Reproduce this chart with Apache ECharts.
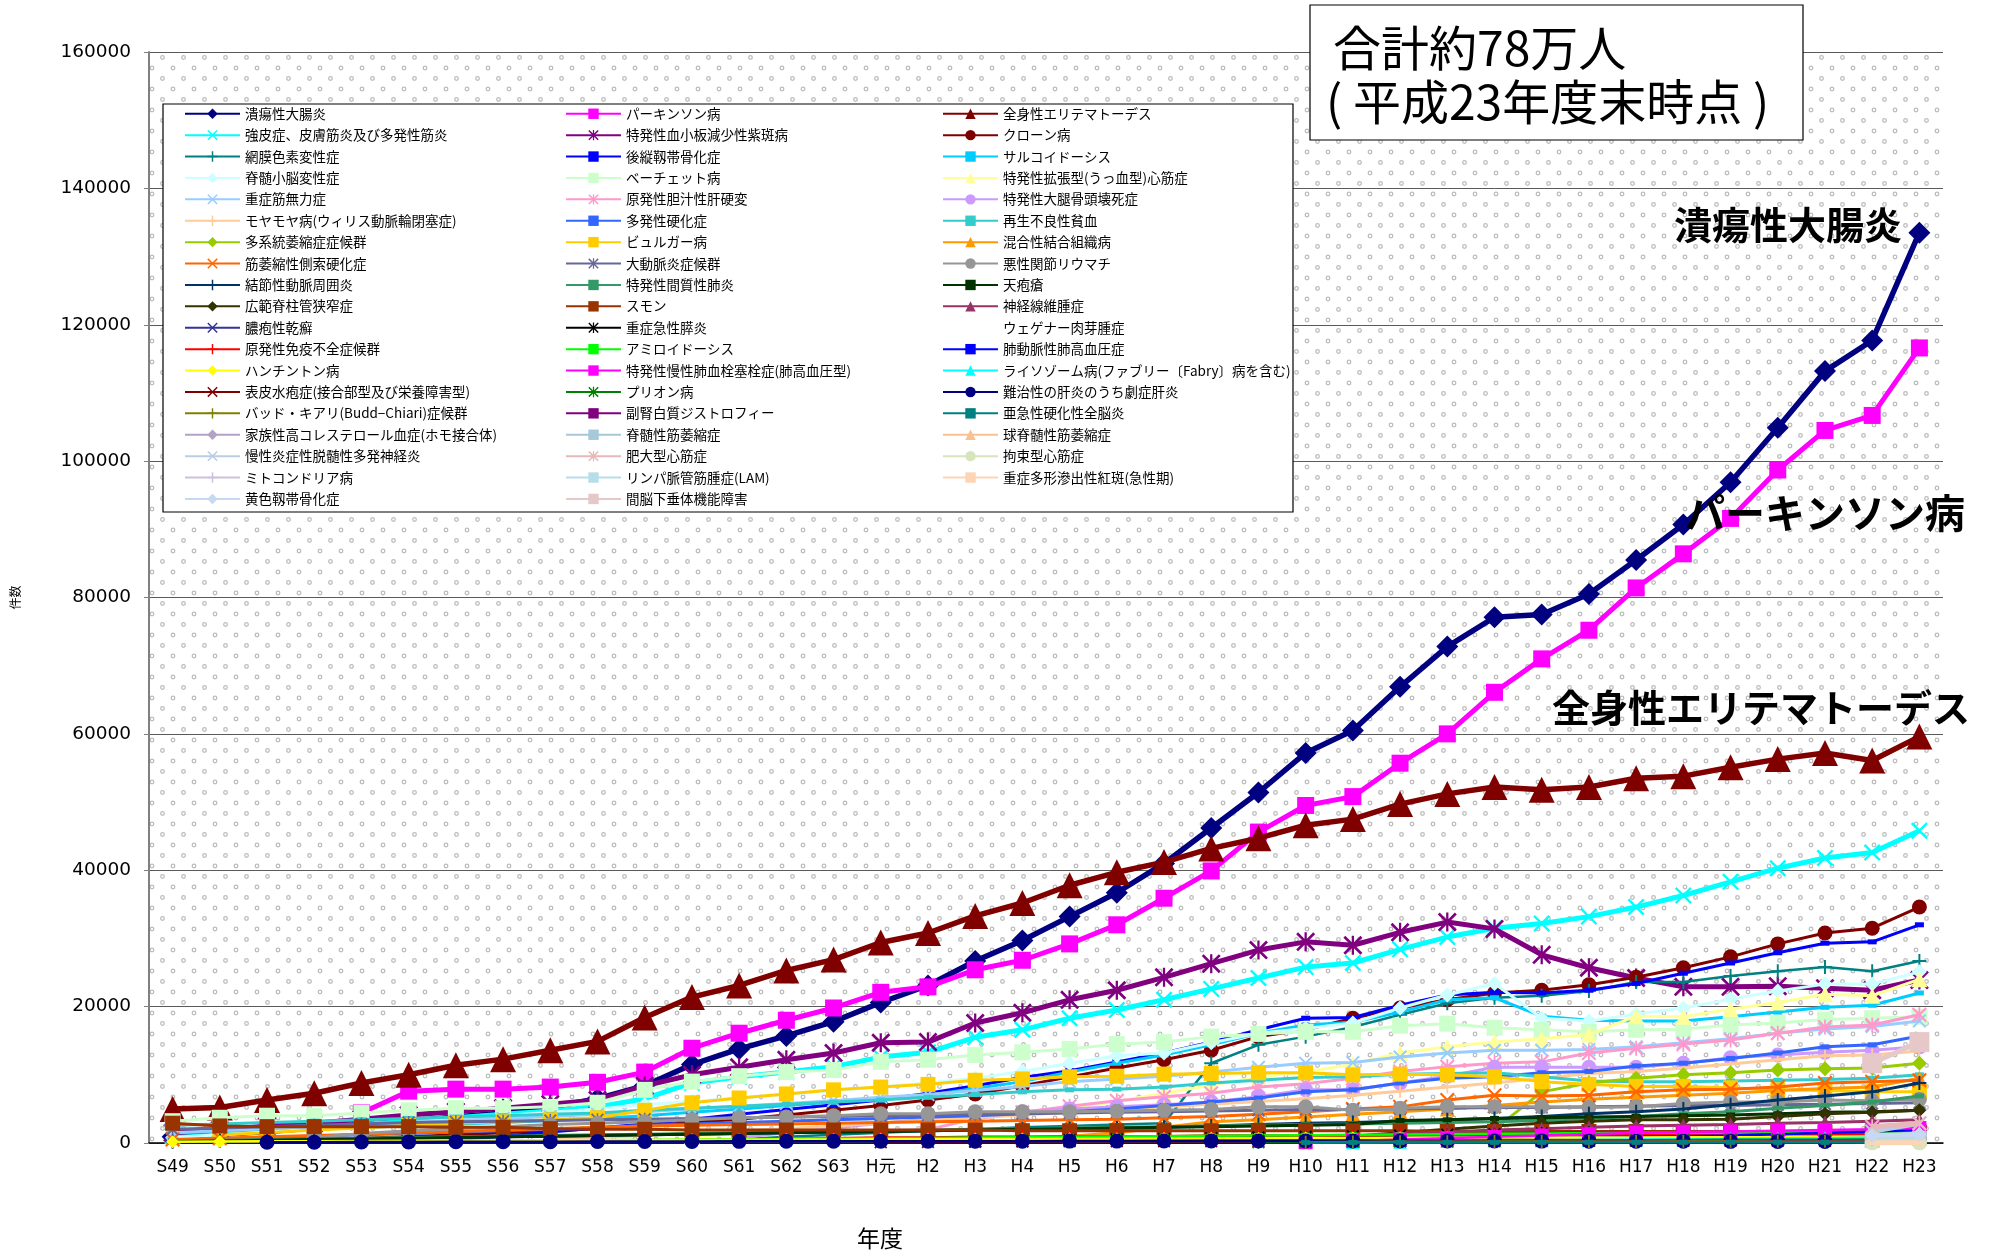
<!DOCTYPE html>
<html>
<head>
<meta charset="utf-8">
<title>特定疾患医療受給者証交付件数の推移</title>
<script src="https://cdn.jsdelivr.net/npm/echarts@6/dist/echarts.min.js"></script>
<style>
  html, body { margin: 0; padding: 0; background: #fff; }
  #main { width: 1991px; height: 1255px; }
</style>
</head>
<body>
<div id="main"></div>
<script>
// 年度
var categories = ['S49','S50','S51','S52','S53','S54','S55','S56','S57','S58','S59','S60','S61','S62','S63',
  'H元','H2','H3','H4','H5','H6','H7','H8','H9','H10','H11','H12','H13','H14','H15','H16','H17','H18','H19','H20','H21','H22','H23'];
var yTicks = [0, 20000, 40000, 60000, 80000, 100000, 120000, 140000, 160000];

// pads the years before a disease was added
function from(label, vals) {
  var k = categories.indexOf(label);
  var out = [];
  for (var i = 0; i < k; i++) out.push(null);
  return out.concat(vals);
}

// values (件数)
var uc = [900,1300,1700,2200,2700,3200,3800,4400,5200,6500,8400,11500,13800,15700,17800,20600,23100,26700,29700,33200,36700,41000,46200,51400,57200,60500,66900,72800,77100,77500,80500,85500,90700,96900,104900,113200,117700,133500];
var parkinson = from('S53', [4400,7600,7900,7900,8200,8900,10400,13900,16100,18000,19800,22100,22900,25400,26800,29200,32000,35900,39900,45600,49500,50800,55700,60000,66100,71000,75200,81400,86400,91600,98700,104500,106700,116600]);
var sle = [5000,5200,6300,7300,8800,10000,11400,12300,13600,14900,18400,21400,23100,25300,26900,29400,30800,33300,35200,37800,39700,41200,43200,44700,46600,47500,49700,51200,52200,51800,52200,53500,53800,55100,56300,57200,56100,59600];
var scleroderma = [1000,1300,1800,2200,2700,3200,3700,4200,4700,5300,6500,8800,9700,10400,11200,12600,13300,15500,16600,18300,19500,21000,22600,24200,25800,26400,28400,30200,31500,32200,33200,34600,36300,38300,40300,41800,42600,45800];
var itp = [1500,1900,2500,2900,3500,4100,4600,5100,5700,6300,8400,10000,11100,12200,13200,14700,14800,17600,19100,21000,22400,24300,26300,28300,29500,29000,30900,32400,31400,27600,25700,24200,22900,22900,23000,22700,22400,23900];
var crohn = from('S51', [300,500,700,900,1200,1500,1800,2100,2500,3000,3500,4100,4800,5500,6300,7200,8400,9700,11000,12200,13600,15600,16600,18300,19800,21000,22000,22400,23200,24300,25700,27300,29200,30800,31500,34600]);
var retina = from('S61', [500,900,1200,1500,1800,2000,2300,2500,2700,2900,11700,14400,15600,17000,18800,20500,21300,21600,22300,23600,23600,24500,25200,25800,25200,26700]);
var opll = from('S55', [500,1000,1600,2200,2800,3500,4200,4900,5600,6300,7300,8400,9600,10600,11900,13200,14800,16600,18300,18400,20200,21700,22100,22000,22400,23400,24900,26400,27900,29300,29500,32000]);
var sarcoid = [1500,1700,1900,2100,2300,2500,2800,3000,3300,3600,4000,4500,5000,5500,6000,6500,7000,8000,9000,10400,11700,12900,14400,16100,17300,17700,19200,21000,21300,18600,18000,17900,17900,18500,19200,19900,20200,22000];
var scd = [800,1200,1600,2000,2500,3000,3500,4000,4500,5000,5600,6100,6600,7100,7700,8200,8800,9500,10500,11700,12800,13200,14700,16100,16800,17600,19800,21700,23400,18300,17900,18900,19800,21100,22300,23300,23300,25100];
var behcet = [3200,3700,4000,4000,4400,4800,5100,5100,5300,5900,7800,9000,9800,10400,10700,11900,12200,12900,13300,13800,14500,14800,15600,16000,16300,16300,17200,17500,16900,16600,16300,16600,16700,17300,17600,18100,18300,18500];
var dcm = from('S60', [1000,1400,2000,2600,3000,3500,4000,4500,5100,6100,7300,8500,9700,10400,11600,13200,14100,14800,15300,15900,18600,18500,19600,20600,21800,21600,24000]);
var mg = [1500,1800,2100,2400,2700,3000,3300,3600,3900,4200,4600,5000,5400,5800,6200,6700,7100,7700,8300,9000,9400,9800,10400,11100,11700,11800,12600,13200,13600,13600,13700,14100,14700,15300,16100,16700,17100,17900];
var pbc = from('H2', [2000,3500,4500,5400,6200,6800,7300,8200,8700,9500,10500,11200,11700,11900,13200,13900,14500,15100,16100,17000,17300,18800]);
var ifhn = from('S61', [800,1500,2200,2900,3500,4100,4600,5000,5300,5600,6000,6800,7800,7800,8800,9800,11100,11100,11100,11100,11700,12500,12900,13300,13600,14100]);
var moyamoya = from('S57', [500,800,1100,1500,1800,2100,2500,2900,3300,3700,4100,4500,4900,5300,5700,6100,6500,7000,7600,8200,8800,9500,10200,10500,11000,11600,12200,12800,12900,13500]);
var ms = [400,600,800,1000,1200,1400,1600,1800,2000,2200,2600,2800,3000,3200,3400,3600,3800,4000,4300,4600,5000,5500,6000,6600,7500,7800,8800,9500,9700,10300,10500,11300,11700,12400,13200,14100,14400,15700];
var aplastic = [2600,2800,3000,3200,3400,3600,3800,4000,4200,4400,4800,5100,5400,5700,6000,6300,6700,7100,7500,7800,7900,8200,8800,9200,9600,9700,10100,10200,10300,9700,9100,9000,9000,9100,9200,9300,9500,10000];
var msa = from('H14', [2000,7500,8800,9500,10000,10300,10700,10900,11000,11700]);
var buerger = from('S50', [1200,1500,1900,2200,2600,2900,3100,3400,3700,4800,5900,6600,7200,7800,8200,8600,9200,9400,9700,9800,10100,10200,10300,10300,10000,10100,10000,9700,9000,8600,8300,8300,8100,7800,7700,7500,7500]);
var mctd = from('H5', [1000,1500,2300,3100,3400,3800,4200,4600,5000,5500,6000,6400,6700,7000,7300,7700,8000,8200,9500]);
var als = [500,700,900,1100,1300,1500,1700,1900,2100,2300,2500,2600,2700,2800,2900,3000,3100,3200,3300,3400,3500,3700,3900,4200,4600,5000,5300,6300,7000,6900,7000,7500,7800,7900,8200,8800,9000,9200];
var aortitis = [2000,2200,2400,2600,2800,3000,3100,3200,3300,3400,3500,3600,3700,3800,3900,4000,4100,4200,4300,4400,4500,4600,4700,4800,4900,4900,5000,5100,5200,5200,5300,5400,5500,5500,5600,5700,5800,5900];
var mra = from('S52', [800,1400,1800,2100,2400,2700,2900,3100,3400,3700,3800,4000,4300,4300,4600,4600,4600,4700,4800,4900,5300,5300,4800,5100,5300,5300,5300,5200,5300,5800,6000,6000,6300,6200,6400]);
var pan = [200,300,400,500,600,700,800,900,1000,1100,1200,1300,1400,1500,1600,1700,1800,1900,2000,2100,2200,2300,2500,2700,2900,3000,3200,3400,3600,3900,4300,4600,5000,5600,6300,6900,7500,8800];
var iip = [300,400,500,600,700,800,900,1000,1100,1200,1300,1400,1500,1600,1700,1800,1900,2000,2100,2200,2300,2400,2500,2600,2700,2800,2900,3000,3100,3300,3600,3900,4300,4600,5100,5500,6000,6900];
var pemphigus = [200,300,400,500,600,700,800,900,1000,1100,1200,1300,1400,1500,1600,1700,1800,1900,2000,2100,2200,2300,2400,2500,2600,2700,3300,3400,3600,3700,3800,3900,4000,4100,4300,4500,4600,4800];
var lss = from('H10', [500,1000,1500,2000,2500,2900,3200,3400,3400,3500,3900,4300,4500,4800]);
var smon = [2900,2500,2400,2400,2400,2400,2300,2300,2100,2000,2000,1900,1900,1900,1900,1900,1900,1900,1800,1800,1800,1800,1800,1800,1800,1800,1800,1700,1700,1700,1700,1700,1700,1700,1600,1600,1600,1600];
var nf = from('H10', [300,800,1300,1600,1900,2100,2300,2500,2600,2700,2900,3000,3200,3400]);
var psoriasis = from('H10', [300,500,700,800,900,1000,1100,1200,1300,1400,1500,1600,1700,1800]);
var pancreatitis = from('H3', [200,300,400,500,600,700,800,900,1000,1100,1200,1300,1400,1500,1500,1400,1400,1500,1500,1600,1500]);
var wegener = [];
var pid = from('S61', [500,600,700,800,800,900,900,1000,1000,1000,1100,1100,1100,1100,1200,1200,1200,1200,1200,1200,1300,1300,1300,1300,1300,1300]);
var amyloid = from('S54', [200,250,300,350,400,450,500,550,600,650,700,750,800,850,900,950,1000,1050,1100,1150,1200,1250,1300,1350,1400,1450,1500,1500,1550,1600,1650,1700,1700]);
var pah = from('S52', [100,150,150,200,200,250,250,300,300,350,350,400,400,450,450,500,500,550,550,600,600,650,650,700,700,750,800,850,900,1000,1100,1300,1500,1700,1900]);
var huntington = [200,220,250,270,300,320,350,370,400,420,440,460,480,500,520,540,560,580,600,620,640,660,680,700,720,740,760,780,790,800,810,820,830,840,850,860,870,880];
var cteph = from('H10', [100,300,500,700,900,1100,1300,1500,1600,1700,1800,1900,2000,2200]);
var lysosome = from('H11', [100,200,300,350,400,450,500,550,600,650,700,800,900]);
var eb = from('H元', [100,150,200,220,240,250,260,270,280,290,300,300,310,310,320,320,330,330,340,340,340,350,350]);
var prion = from('H9', [100,150,200,250,300,350,380,400,420,440,460,480,490,500,500]);
var fulminant = from('S51', [100,120,140,160,180,200,200,210,220,230,240,250,250,260,260,270,270,280,280,290,290,300,300,300,300,300,290,280,270,260,250,240,230,220,210,200]);
var buddChiari = from('H10', [100,150,180,200,210,220,230,230,240,240,250,250,250,260]);
var ald = from('H12', [50,80,100,120,130,140,150,160,170,180,190,200]);
var sspe = from('H10', [80,85,90,90,95,95,100,100,100,100,95,95,90,90]);
var fh = from('H22', [150,200]);
var sma = from('H22', [400,700]);
var sbma = from('H22', [400,800]);
var cidp = from('H22', [1700,2900]);
var hcm = from('H22', [2400,2900]);
var rcm = from('H22', [20,25]);
var mito = from('H22', [600,1000]);
var lam = from('H22', [300,500]);
var sjs = from('H22', [30,60]);
var olf = from('H22', [1100,1300]);
var hypopit = from('H22', [11700,14800]);

// names in legend order (row by row, three columns)
var names = ['潰瘍性大腸炎','パーキンソン病','全身性エリテマトーデス',
  '強皮症、皮膚筋炎及び多発性筋炎','特発性血小板減少性紫斑病','クローン病',
  '網膜色素変性症','後縦靱帯骨化症','サルコイドーシス',
  '脊髄小脳変性症','ベーチェット病','特発性拡張型(うっ血型)心筋症',
  '重症筋無力症','原発性胆汁性肝硬変','特発性大腿骨頭壊死症',
  'モヤモヤ病(ウィリス動脈輪閉塞症)','多発性硬化症','再生不良性貧血',
  '多系統萎縮症症候群','ビュルガー病','混合性結合組織病',
  '筋萎縮性側索硬化症','大動脈炎症候群','悪性関節リウマチ',
  '結節性動脈周囲炎','特発性間質性肺炎','天疱瘡',
  '広範脊柱管狭窄症','スモン','神経線維腫症',
  '膿疱性乾癬','重症急性膵炎','ウェゲナー肉芽腫症',
  '原発性免疫不全症候群','アミロイドーシス','肺動脈性肺高血圧症',
  'ハンチントン病','特発性慢性肺血栓塞栓症(肺高血圧型)','ライソゾーム病(ファブリー〔Fabry〕病を含む)',
  '表皮水疱症(接合部型及び栄養障害型)','プリオン病','難治性の肝炎のうち劇症肝炎',
  'バッド・キアリ(Budd−Chiari)症候群','副腎白質ジストロフィー','亜急性硬化性全脳炎',
  '家族性高コレステロール血症(ホモ接合体)','脊髄性筋萎縮症','球脊髄性筋萎縮症',
  '慢性炎症性脱髄性多発神経炎','肥大型心筋症','拘束型心筋症',
  'ミトコンドリア病','リンパ脈管筋腫症(LAM)','重症多形滲出性紅斑(急性期)',
  '黄色靱帯骨化症','間脳下垂体機能障害'];
var values = [uc, parkinson, sle, scleroderma, itp, crohn, retina, opll, sarcoid, scd, behcet, dcm,
  mg, pbc, ifhn, moyamoya, ms, aplastic, msa, buerger, mctd, als, aortitis, mra, pan, iip, pemphigus,
  lss, smon, nf, psoriasis, pancreatitis, wegener, pid, amyloid, pah, huntington, cteph, lysosome,
  eb, prion, fulminant, buddChiari, ald, sspe, fh, sma, sbma, cidp, hcm, rcm, mito, lam, sjs, olf, hypopit];

// marker shapes
var X = 'path://M0,1L1,0L5,4L9,0L10,1L6,5L10,9L9,10L5,6L1,10L0,9L4,5Z';
var STAR = 'path://M0,1L1,0L5,4L9,0L10,1L6,5L10,9L9,10L5,6L1,10L0,9L4,5Z M4.4,0L5.6,0L5.6,10L4.4,10Z';
var PLUS = 'path://M4.3,0L5.7,0L5.7,4.3L10,4.3L10,5.7L5.7,5.7L5.7,10L4.3,10L4.3,5.7L0,5.7L0,4.3L4.3,4.3Z';
var DASH = [9, 5];

// [color, symbol, size, line width]
var looks = [
  ['#000080','diamond',22,5.5], ['#FF00FF','rect',17,5], ['#800000','triangle',26,5.5],
  ['#00FFFF',X,17,5], ['#800080',STAR,19,5], ['#800000','circle',15,3],
  ['#008080',PLUS,14,2.5], ['#0000FF','rect',DASH,3], ['#00CCFF','rect',DASH,3],
  ['#CCFFFF','diamond',15,3], ['#CCFFCC','rect',16,3], ['#FFFF99','triangle',16,3],
  ['#99CCFF',X,14,3], ['#FF99CC',STAR,15,3], ['#CC99FF','circle',15,3],
  ['#FFCC99',PLUS,13,3], ['#3366FF','rect',DASH,3], ['#33CCCC','rect',DASH,3],
  ['#99CC00','diamond',15,3], ['#FFCC00','rect',15,3], ['#FF9900','triangle',15,3],
  ['#FF6600',X,15,3], ['#666699',STAR,13,3], ['#969696','circle',15,3],
  ['#003366',PLUS,14,3], ['#339966','rect',DASH,3], ['#003300','rect',DASH,3],
  ['#333300','diamond',14,3], ['#993300','rect',15,3], ['#993366','triangle',14,3],
  ['#333399',X,13,2.5], ['#000000',STAR,13,2.5], ['#FFFFFF','none',0,0],
  ['#FF0000',PLUS,13,2.5], ['#00FF00','rect',DASH,2.5], ['#0000FF','rect',DASH,2.5],
  ['#FFFF00','diamond',13,2.5], ['#FF00FF','rect',14,2.5], ['#00FFFF','triangle',14,2.5],
  ['#800000',X,13,2.5], ['#008000',STAR,13,2.5], ['#000080','circle',15,2.5],
  ['#808000',PLUS,13,2.5], ['#800080','rect',DASH,2.5], ['#008080','rect',DASH,2.5],
  ['#B3A2C7','diamond',15,5], ['#A5C9D8','rect',15,5], ['#FAC090','triangle',15,5],
  ['#B9CDE5',X,15,5], ['#E6B9B8',STAR,15,5], ['#D7E4BD','circle',15,5],
  ['#CCC1DA',PLUS,15,5], ['#B7DEE8','rect',DASH,5], ['#FCD5B5','rect',DASH,5],
  ['#C6D9F1','diamond',15,5], ['#E6C8C8','rect',20,5]
];

// dotted fill of the plot area
var tile = document.createElement('canvas');
tile.width = 21; tile.height = 21;
var tc = tile.getContext('2d');
tc.fillStyle = '#ffffff';
tc.fillRect(0, 0, 21, 21);
tc.strokeStyle = '#bdbdbd';
tc.lineWidth = 1.3;
[[5, 5], [15.5, 15.5]].forEach(function (p) {
  tc.beginPath();
  tc.arc(p[0], p[1], 1.8, 0, Math.PI * 2);
  tc.stroke();
});

var CJK = '"Noto Sans CJK JP", sans-serif';

var series = names.map(function (name, i) {
  var lk = looks[i];
  var hidden = lk[1] === 'none';
  return {
    name: name,
    type: 'line',
    data: values[i],
    symbol: lk[1],
    symbolSize: lk[2],
    showAllSymbol: true,
    color: lk[0],
    lineStyle: { width: lk[3], color: lk[0], opacity: hidden ? 0 : 1 },
    itemStyle: { color: lk[0], opacity: hidden ? 0 : 1 },
    emphasis: { disabled: true },
    z: 2 + i * 0.01
  };
});

function legendColumn(col, left) {
  var data = [];
  for (var i = col; i < names.length; i += 3) data.push(names[i]);
  return {
    orient: 'vertical',
    left: left,
    top: 107,
    padding: 0,
    itemWidth: 55,
    itemHeight: 13,
    itemGap: 7.9,
    z: 20,
    selectedMode: false,
    data: data,
    textStyle: { fontFamily: CJK, fontSize: 13.5, color: '#000' }
  };
}

var chart = echarts.init(document.getElementById('main'));
chart.setOption({
  backgroundColor: '#ffffff',
  animation: false,
  grid: {
    left: 149, right: 48, top: 52, bottom: 112,
    show: true,
    borderWidth: 0,
    backgroundColor: { image: tile, repeat: 'repeat' }
  },
  legend: [legendColumn(0, 184), legendColumn(1, 565), legendColumn(2, 942)],
  xAxis: {
    type: 'category',
    data: categories,
    boundaryGap: true,
    axisLine: { lineStyle: { color: '#000', width: 1.5 } },
    axisTick: { show: false },
    axisLabel: { interval: 0, margin: 16, fontSize: 17, color: '#000', fontFamily: '"DejaVu Sans", "Noto Sans CJK JP"' }
  },
  yAxis: {
    type: 'value',
    min: yTicks[0],
    max: yTicks[yTicks.length - 1],
    interval: yTicks[1] - yTicks[0],
    name: '件数',
    nameLocation: 'middle',
    nameRotate: 90,
    nameGap: 128,
    nameTextStyle: { fontFamily: CJK, fontSize: 12, color: '#000' },
    axisLine: { show: true, lineStyle: { color: '#808080', width: 2 } },
    axisTick: { show: true, length: 5, lineStyle: { color: '#808080' } },
    axisLabel: {
      margin: 18, fontSize: 18.5, color: '#000', fontFamily: '"DejaVu Sans"',
      formatter: function (v) { return String(v); }
    },
    splitLine: { show: true, lineStyle: { color: '#5a5a5a', width: 1 } }
  },
  graphic: [
    { type: 'rect', z: 10, shape: { x: 163, y: 104, width: 1130, height: 408 },
      style: { fill: '#ffffff', stroke: '#000', lineWidth: 1.2 } },
    { type: 'rect', z: 10, shape: { x: 1310, y: 5, width: 493, height: 135 },
      style: { fill: '#ffffff', stroke: '#000', lineWidth: 1.2 } },
    { type: 'text', z: 11, x: 1333, y: 48,
      style: { text: '合計約78万人', font: '48px "Noto Sans CJK JP"', fill: '#000', verticalAlign: 'middle' } },
    { type: 'text', z: 11, x: 1326, y: 102,
      style: { text: '( 平成23年度末時点 )', font: '48px "Noto Sans CJK JP"', fill: '#000', verticalAlign: 'middle' } },
    { type: 'text', z: 11, x: 1674, y: 225,
      style: { text: '潰瘍性大腸炎', font: 'bold 38px "Noto Sans CJK JP"', fill: '#000', verticalAlign: 'middle' } },
    { type: 'text', z: 11, x: 1685, y: 513,
      style: { text: 'パーキンソン病', font: 'bold 40px "Noto Sans CJK JP"', fill: '#000', verticalAlign: 'middle' } },
    { type: 'text', z: 11, x: 1552, y: 708,
      style: { text: '全身性エリテマトーデス', font: 'bold 38px "Noto Sans CJK JP"', fill: '#000', verticalAlign: 'middle' } },
    { type: 'text', z: 11, x: 880, y: 1238,
      style: { text: '年度', font: '23px "Noto Sans CJK JP"', fill: '#000', align: 'center', verticalAlign: 'middle' } }
  ],
  series: series
});
</script>
</body>
</html>
